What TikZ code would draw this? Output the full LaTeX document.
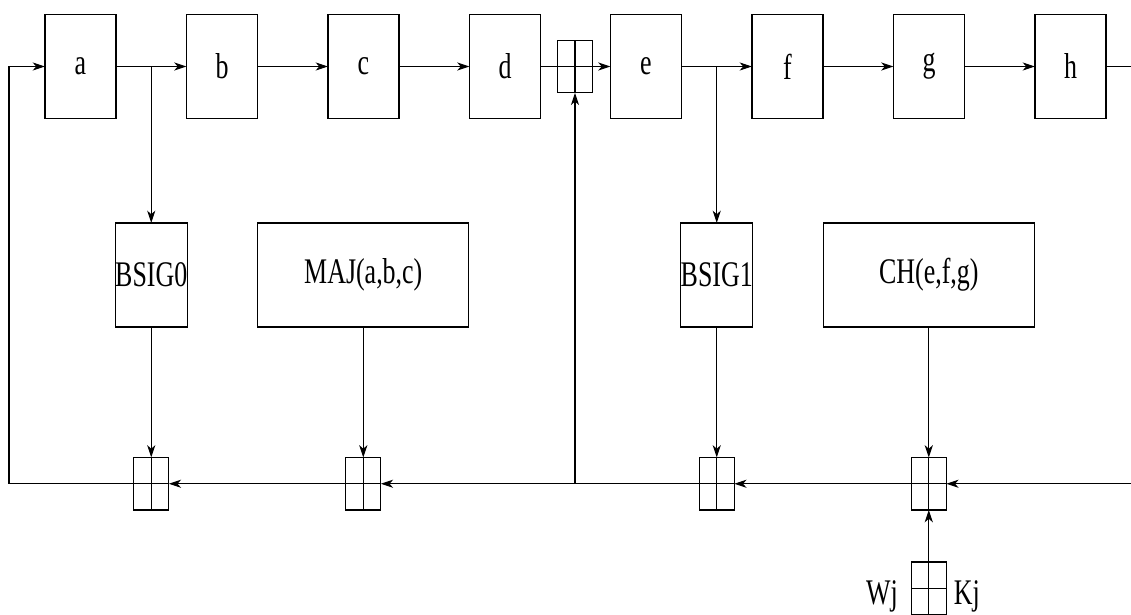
\documentclass[tikz,border=0pt]{standalone}
\usepackage{fontspec}
\setmainfont{Liberation Serif}[FakeStretch=0.72]
\usetikzlibrary{arrows.meta, positioning, calc}

\begin{document}
\begin{tikzpicture}[>={Stealth[length=7pt,width=4.6pt,inset=2pt]},line width=0.6pt,
	node distance=1.41cm,font=\fontsize{20.5}{23}\selectfont,
	reg node/.style={rectangle,draw,minimum width=1.42cm,minimum height=2.08cm,inner sep=0pt,outer sep=0pt},
	fn node/.style={reg node,minimum width=4.22cm},
	add node/.style={rectangle,draw,minimum width=0.7cm,minimum height=1.05cm,inner sep=0pt,outer sep=0pt,
		path picture={\draw (path picture bounding box.north) -- (path picture bounding box.south)
			(path picture bounding box.west) -- (path picture bounding box.east);}}]

	\useasboundingbox (0,0) rectangle (22.62,-12.3);

	% working registers
	\node[reg node] (a) at (1.61,-1.33) {a};
	\node[reg node] (b) [right=of a] {b};
	\node[reg node] (c) [right=of b] {c};
	\node[reg node] (d) [right=of c] {d};
	\node[add node] (t) [right=0.34cm of d] {};
	\node[reg node] (e) [right=0.36cm of t] {e};
	\node[reg node] (f) [right=of e] {f};
	\node[reg node] (g) [right=of f] {g};
	\node[reg node] (h) [right=of g] {h};

	\coordinate (ab) at ($(a.east)!0.5!(b.west)$);
	\coordinate (ef) at ($(e.east)!0.5!(f.west)$);
	\coordinate[left=0.72cm of a] (fb);
	\coordinate[right=0.5cm of h] (out);

	% round functions
	\node[reg node] (bsig0) [below=3.13cm of ab] {BSIG0};
	\node[fn node] (maj) [right=of bsig0] {MAJ(a,b,c)};
	\node[reg node] (bsig1) [below=3.13cm of ef] {BSIG1};
	\node[fn node] (ch) [right=of bsig1] {CH(e,f,g)};

	% adders
	\node[add node] (s1) [below=2.61cm of bsig0] {};
	\node[add node] (s2) [below=2.61cm of maj] {};
	\node[add node] (s3) [below=2.61cm of bsig1] {};
	\node[add node] (s4) [below=2.61cm of ch] {};
	\node[add node] (wk) [below=1.04cm of s4] {};
	\node[inner sep=0pt] (wj) [left=0.26cm of wk,yshift=-0.16cm] {Wj};
	\node[inner sep=0pt] (kj) [right=0.14cm of wk,yshift=-0.16cm] {Kj};

	\coordinate (in) at (out |- s4);
	\coordinate (j) at (t |- s4);

	% top row
	\draw[->] (fb) -- (a);
	\draw[->] (a) -- (b);
	\draw[->] (ab) -- (bsig0);
	\draw[->] (b) -- (c);
	\draw[->] (c) -- (d);
	\draw[->] (d) -- (e);
	\draw[->] (e) -- (f);
	\draw[->] (ef) -- (bsig1);
	\draw[->] (f) -- (g);
	\draw[->] (g) -- (h);
	\draw (h) -- (out);

	% into the adders
	\draw[->] (bsig0) -- (s1);
	\draw[->] (maj) -- (s2);
	\draw[->] (bsig1) -- (s3);
	\draw[->] (ch) -- (s4);
	\draw[->] (wk) -- (s4);

	% bottom row, back to a
	\draw[->] (in) -- (s4);
	\draw[->] (s4) -- (s3);
	\draw[->] (s3) -- (s2);
	\draw[->] (s2) -- (s1);
	\draw (s1) -- (s1 -| fb) -- (fb);
	\draw[->] (j) -- (t);
\end{tikzpicture}
\end{document}
